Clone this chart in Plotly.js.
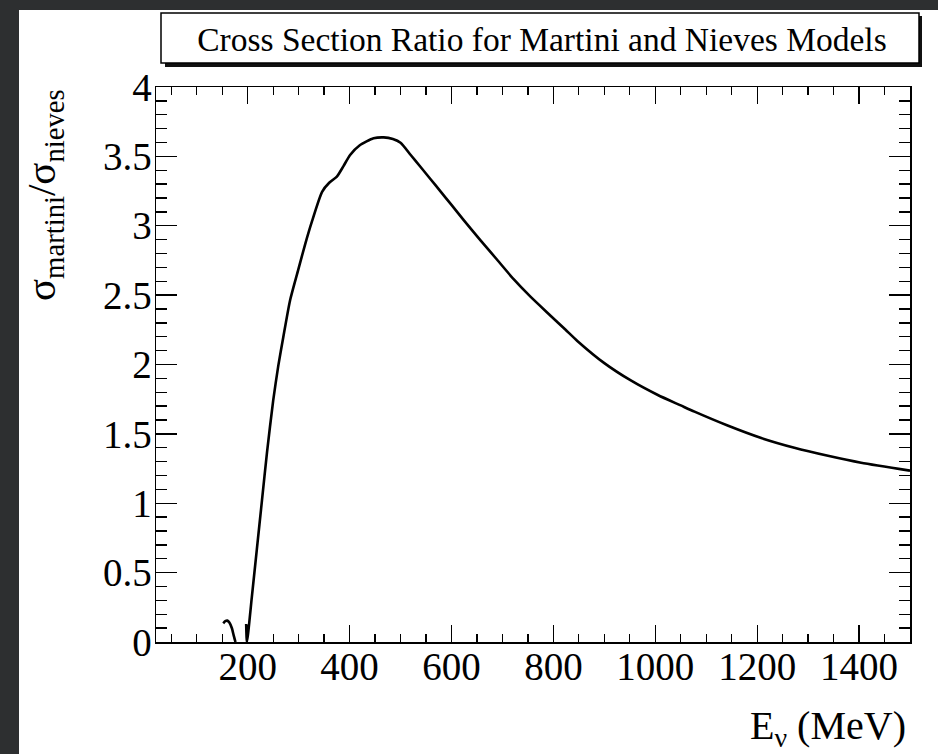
<!DOCTYPE html>
<html>
<head>
<meta charset="utf-8">
<script src="https://cdn.plot.ly/plotly-3.0.1.min.js"></script>
<style>
  html, body { margin: 0; padding: 0; width: 938px; height: 754px; overflow: hidden;
    background: #2d2f30; }
  #chart { position: absolute; left: 19px; top: 10px; width: 919px; height: 744px; }
</style>
</head>
<body>
<div id="chart"></div>
<script>
// Neutrino energy (MeV) and cross-section ratio sigma_martini / sigma_nieves
const energy = [152, 156, 160, 164, 169, 173, 176, null,
  197, 198.5, 208, 218, 228, 238, 250, 260, 270, 283, 299, 313, 326, 346, 360, 375, 388, 401, 420,
  447, 467, 485, 500, 520, 539, 559, 578, 600, 624, 657, 690, 722, 755, 795, 824, 847,
  900, 952, 1005, 1050, 1077, 1142, 1208, 1273, 1339, 1404, 1500];
const ratio = [0.135, 0.15, 0.154, 0.14, 0.099, 0.04, 0, null,
  0.13, 0, 0.32, 0.67, 1.02, 1.37, 1.74, 1.99, 2.2, 2.46, 2.68, 2.87, 3.03, 3.245, 3.31, 3.354, 3.43, 3.51, 3.58,
  3.63, 3.637, 3.625, 3.598, 3.51, 3.425, 3.335, 3.25, 3.15, 3.041, 2.895, 2.753, 2.615, 2.489, 2.35, 2.25, 2.17,
  2.01, 1.885, 1.78, 1.705, 1.66, 1.56, 1.47, 1.40, 1.342, 1.292, 1.235];

const chartTitle = 'Cross Section Ratio for Martini and Nieves Models';
const xTitle = 'E<sub>ν</sub> (MeV)';
const yTitle = 'σ<sub>martini</sub>/σ<sub>nieves</sub>';

const W = 919, H = 744;
const M = { l: 137, r: 28, t: 77, b: 112 };
const PW = W - M.l - M.r, PH = H - M.t - M.b;
const px = v => (v - M.l) / PW;
const py = v => 1 - (v - M.t) / PH;

const FONT = '"Liberation Serif", "Times New Roman", serif';

const trace = {
  x: energy, y: ratio, type: 'scatter', mode: 'lines',
  line: { color: '#000', width: 2.6, shape: 'spline', smoothing: 0.6 },
  connectgaps: false, hoverinfo: 'skip', showlegend: false
};

const axisCommon = {
  showgrid: false, zeroline: false, showline: true, linecolor: '#000', linewidth: 1.5,
  mirror: 'allticks', ticks: 'inside', tickcolor: '#000', tickwidth: 1.3,
  tickfont: { family: FONT, size: 39, color: '#000' }
};

const layout = {
  width: W, height: H,
  margin: M,
  paper_bgcolor: '#ffffff', plot_bgcolor: '#ffffff',
  title: {
    text: chartTitle,
    font: { family: FONT, size: 33.5, color: '#000' },
    x: px(523), xref: 'paper', xanchor: 'center',
    y: 1 - 29 / H, yref: 'container', yanchor: 'middle'
  },
  xaxis: Object.assign({}, axisCommon, {
    range: [20, 1500], tickmode: 'linear', tick0: 0, dtick: 200, ticklen: 17,
    ticklabelstandoff: -10,
    minor: { dtick: 50, tick0: 0, ticklen: 8, tickwidth: 1.3, tickcolor: '#000', ticks: 'inside', showgrid: false }
  }),
  yaxis: Object.assign({}, axisCommon, {
    range: [0, 4], tickmode: 'linear', tick0: 0, dtick: 0.5, ticklen: 21,
    ticklabelstandoff: -5,
    minor: { dtick: 0.1, tick0: 0, ticklen: 11, tickwidth: 1.3, tickcolor: '#000', ticks: 'inside', showgrid: false }
  }),
  shapes: [
    { type: 'rect', xref: 'paper', yref: 'paper', layer: 'above',
      x0: px(146), x1: px(903), y0: py(6), y1: py(57),
      fillcolor: '#111', line: { width: 0 } },
    { type: 'rect', xref: 'paper', yref: 'paper', layer: 'above',
      x0: px(142), x1: px(900), y0: py(3), y1: py(53),
      fillcolor: '#ffffff', line: { color: '#000', width: 1.5 } }
  ],
  annotations: [
    { text: xTitle, xref: 'paper', yref: 'paper', x: px(889), y: py(718),
      xanchor: 'right', yanchor: 'middle', showarrow: false,
      font: { family: FONT, size: 40, color: '#000' } },
    { text: yTitle, xref: 'paper', yref: 'paper', x: px(25), y: py(185),
      xanchor: 'center', yanchor: 'middle', textangle: -90, showarrow: false,
      font: { family: FONT, size: 41, color: '#000' } }
  ]
};

Plotly.newPlot('chart', [trace], layout, { displayModeBar: false, staticPlot: true });
</script>
</body>
</html>
